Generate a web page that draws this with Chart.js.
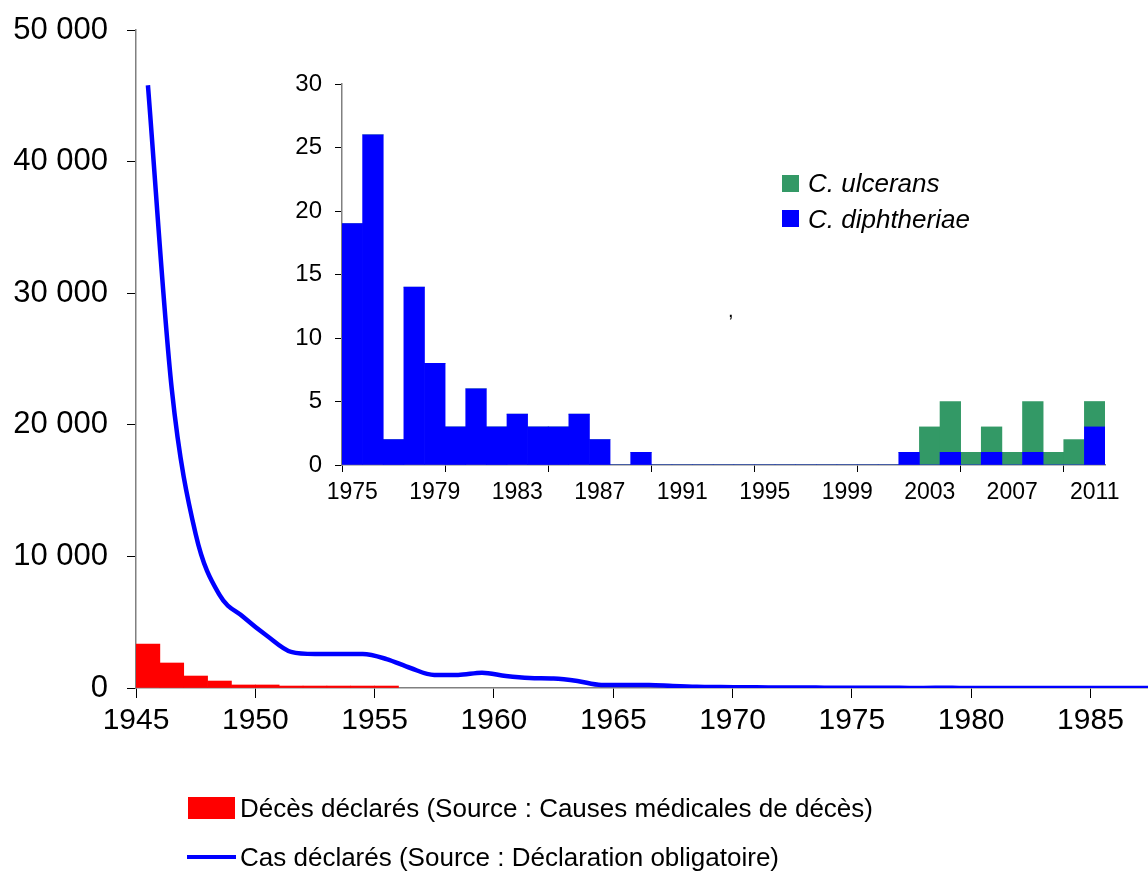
<!DOCTYPE html>
<html>
<head>
<meta charset="utf-8">
<script src="https://cdn.jsdelivr.net/npm/chart.js@4.4.1/dist/chart.umd.min.js"></script>
<style>
  body { margin: 0; background: #fff; font-family: "Liberation Sans", Arial, sans-serif; }
  #wrap { position: relative; width: 1148px; height: 873px; overflow: hidden; }
  #main { position: absolute; left: 0; top: 0; }
  #inset { position: absolute; left: 270px; top: 60px; }
  .txt { position: absolute; white-space: nowrap; color: #000; }
  .box { position: absolute; }
</style>
</head>
<body>
<div id="wrap">
  <canvas id="main" width="1148" height="873"></canvas>
  <canvas id="inset" width="870" height="460"></canvas>

  <div class="box" style="left:782px;top:175px;width:17px;height:17px;background:#339966"></div>
  <div class="txt" style="left:808px;top:167px;font-size:26px;line-height:32px;font-style:italic">C. ulcerans</div>
  <div class="box" style="left:782px;top:210px;width:17px;height:17px;background:#0000ff"></div>
  <div class="txt" style="left:808px;top:203px;font-size:26px;line-height:32px;font-style:italic">C. diphtheriae</div>
  <div class="txt" style="left:728px;top:298px;font-size:20px;line-height:24px">,</div>

  <div class="box" style="left:188px;top:797px;width:47px;height:22px;background:#ff0000"></div>
  <div class="txt" style="left:240px;top:792px;font-size:26px;line-height:32px">Décès déclarés (Source : Causes médicales de décès)</div>
  <div class="box" style="left:187px;top:855px;width:49px;height:4px;background:#0000ff"></div>
  <div class="txt" style="left:240px;top:841px;font-size:26px;line-height:32px">Cas déclarés (Source : Déclaration obligatoire)</div>
</div>
<script>
// main chart: deaths (bars) and reported cases (line), France
const deathYears = [1945, 1946, 1947, 1948, 1949, 1950, 1951, 1952, 1953, 1954, 1955];
const deaths = [3340, 1900, 910, 530, 230, 230, 150, 150, 150, 150, 150];

const caseYears = [1945, 1946, 1947, 1948, 1949, 1950, 1951, 1952, 1953, 1954,
  1955, 1956, 1957, 1958, 1959, 1960, 1961, 1962, 1963, 1964,
  1965, 1966, 1967, 1968, 1969, 1970, 1971, 1972, 1973, 1974,
  1975, 1976, 1977, 1978, 1979, 1980, 1981, 1982, 1983, 1984,
  1985, 1986, 1987];
const cases = [45800, 22700, 11700, 7070, 5400, 3950, 2740, 2580, 2580, 2580,
  2200, 1520, 990, 990, 1160, 910, 760, 720, 530, 230,
  230, 230, 150, 90, 70, 60, 45, 35, 30, 25,
  19, 26, 2, 14, 8, 3, 6, 3, 4, 3,
  3, 4, 2];

const mainYTicks = [0, 10000, 20000, 30000, 40000, 50000];
const mainXTicks = [1945, 1950, 1955, 1960, 1965, 1970, 1975, 1980, 1985];

// inset: cases by species 1975-2011
const insetYears = [];
for (let y = 1975; y <= 2011; y++) insetYears.push(String(y));
const diphtheriae = [19, 26, 2, 14, 8, 3, 6, 3, 4, 3, 3, 4, 2, 0, 1,
  0, 0, 0, 0, 0, 0, 0, 0, 0, 0, 0, 0,
  1, 0, 1, 0, 1, 0, 1, 0, 0, 3];
const ulcerans = [0, 0, 0, 0, 0, 0, 0, 0, 0, 0, 0, 0, 0, 0, 0,
  0, 0, 0, 0, 0, 0, 0, 0, 0, 0, 0, 0,
  0, 3, 4, 1, 2, 1, 4, 1, 2, 2];

const fontFam = '"Liberation Sans", Arial, sans-serif';
const fmt = (v) => String(v).replace(/\B(?=(\d{3})+(?!\d))/g, ' ');

new Chart(document.getElementById('main'), {
  type: 'bar',
  data: {
    datasets: [{
      type: 'line',
      label: 'Cas déclarés',
      data: caseYears.map((y, i) => ({ x: y + 0.5, y: cases[i] })),
      borderColor: '#0000ff',
      borderWidth: 4.5,
      pointRadius: 0,
      tension: 0.4,
      cubicInterpolationMode: 'monotone',
      order: 0
    }, {
      label: 'Décès déclarés',
      data: deathYears.map((y, i) => ({ x: y + 0.5, y: deaths[i] })),
      backgroundColor: '#ff0000',
      barPercentage: 1,
      categoryPercentage: 1,
      order: 1
    }]
  },
  options: {
    responsive: false,
    animation: false,
    layout: { padding: { top: 30, right: 0, left: 0, bottom: 0 } },
    plugins: { legend: { display: false }, tooltip: { enabled: false } },
    scales: {
      x: {
        type: 'linear',
        min: 1945,
        max: 1987.41,
        offset: false,
        grid: { drawOnChartArea: false, offset: false, color: '#000', tickLength: 10 },
        border: { color: '#808080', width: 1.5 },
        ticks: { padding: 5, color: '#000', font: { family: fontFam, size: 30 }, maxRotation: 0, callback: (v) => String(v) },
        afterBuildTicks: (s) => { s.ticks = mainXTicks.map(v => ({ value: v })); },
        afterFit: (s) => { s.height = 185; s.paddingLeft = 0; s.paddingRight = 0; }
      },
      y: {
        min: 0,
        max: 50000,
        grid: { drawOnChartArea: false, color: '#000', tickLength: 9 },
        border: { color: '#808080', width: 1.5 },
        ticks: { padding: 19, color: '#000', font: { family: fontFam, size: 31 }, callback: (v) => fmt(v) },
        afterBuildTicks: (s) => { s.ticks = mainYTicks.map(v => ({ value: v })); },
        afterFit: (s) => { s.width = 136; s.paddingTop = 0; s.paddingBottom = 0; }
      }
    }
  }
});

new Chart(document.getElementById('inset'), {
  type: 'bar',
  data: {
    labels: insetYears,
    datasets: [{
      label: 'C. diphtheriae',
      data: diphtheriae,
      backgroundColor: '#0000ff',
      barPercentage: 1,
      categoryPercentage: 1
    }, {
      label: 'C. ulcerans',
      data: ulcerans,
      backgroundColor: '#339966',
      barPercentage: 1,
      categoryPercentage: 1
    }]
  },
  options: {
    responsive: false,
    animation: false,
    layout: { padding: { top: 24, right: 35, left: 0, bottom: 0 } },
    plugins: { legend: { display: false }, tooltip: { enabled: false } },
    scales: {
      x: {
        stacked: true,
        grid: {
          drawOnChartArea: false,
          offset: true,
          tickLength: 7,
          color: (ctx) => (ctx.index !== undefined && ctx.index % 5 === 0) ? '#000' : 'rgba(0,0,0,0)'
        },
        border: { color: '#808080', width: 1.5 },
        ticks: {
          autoSkip: false, maxRotation: 0, minRotation: 0, padding: 7, color: '#000',
          font: { family: fontFam, size: 23 },
          callback: (v, i) => (i % 4 === 0 ? insetYears[i] : '')
        },
        afterFit: (s) => { s.height = 55; s.paddingLeft = 0; s.paddingRight = 0; }
      },
      y: {
        stacked: true,
        min: 0,
        max: 30,
        grid: { drawOnChartArea: false, color: '#000', tickLength: 7 },
        border: { color: '#808080', width: 1.5 },
        ticks: { stepSize: 5, padding: 13, color: '#000', font: { family: fontFam, size: 24 } },
        afterFit: (s) => { s.width = 72; s.paddingTop = 0; s.paddingBottom = 0; }
      }
    }
  }
});
</script>
</body>
</html>
